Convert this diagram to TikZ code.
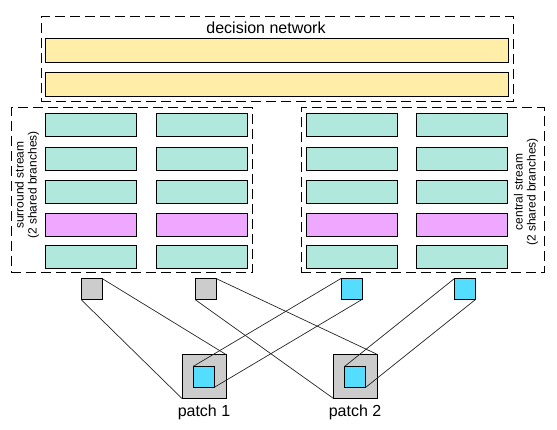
\documentclass[tikz,border=0pt]{standalone}
\usepackage{fontspec}
\setmainfont{Liberation Sans}
\definecolor{barY}{HTML}{FFEDA8}
\definecolor{barT}{HTML}{B0E8DE}
\definecolor{barP}{HTML}{EEA8FF}
\definecolor{cyanF}{HTML}{55DDFF}
\definecolor{grayF}{HTML}{CCCCCC}
\begin{document}
\begin{tikzpicture}[x=1pt,y=-1pt,
  bar/.style={draw=black,line width=1pt,inner sep=0pt,outer sep=0pt,rectangle},
  ybar/.style={bar,fill=barY,minimum width=463pt,minimum height=24pt},
  tbar/.style={bar,fill=barT,minimum width=91pt,minimum height=23pt},
  pbar/.style={bar,fill=barP,minimum width=91pt,minimum height=23pt},
  group/.style={draw=black,line width=1pt,dash pattern=on 10pt off 5pt,inner sep=0pt,outer sep=0pt,rectangle},
  sq/.style={draw=black,line width=0.8pt,inner sep=0pt,outer sep=0pt,minimum size=21pt},
  lnk/.style={draw=black!85,line width=0.7pt},
  lab/.style={font=\fontsize{16}{18}\selectfont,inner sep=0pt},
  slab/.style={font=\fontsize{12}{13}\selectfont,inner sep=0pt,align=center,rotate=90}
]
\useasboundingbox (0,0) rectangle (557,430);
% decision network
\node[group,minimum width=472pt,minimum height=85pt] (dec) at (277,59.5) {};
\node[lab] (dlab) at (266,28) {decision network};
\node[ybar] (y1) at (276.5,51) {};
\node[ybar] (y2) at (276.5,85) {};
% streams
\node[group,minimum width=241pt,minimum height=165pt] (sur) at (131.5,190.5) {};
\node[group,minimum width=243pt,minimum height=165pt] (cen) at (422.5,190.5) {};
\foreach \c/\x in {a/90.5,b/202,c/352,d/462}{
  \node[tbar] (\c1) at (\x,125) {};
  \node[tbar] (\c2) at (\x,159.5) {};
  \node[tbar] (\c3) at (\x,192.5) {};
  \node[pbar] (\c4) at (\x,225) {};
  \node[tbar] (\c5) at (\x,257.5) {};
}
\node[slab] (slab) at (27,185) {surround stream\\(2 shared branches)};
\node[slab] (clab) at (526,192) {central stream\\(2 shared branches)};
% small squares
\node[sq,fill=grayF] (g1) at (91.5,289) {};
\node[sq,fill=grayF] (g2) at (205.5,289) {};
\node[sq,fill=cyanF] (c1s) at (351.5,289) {};
\node[sq,fill=cyanF] (c2s) at (465,289) {};
% patches
\node[sq,fill=grayF,minimum size=44pt] (p1) at (204,376.5) {};
\node[sq,fill=cyanF,minimum size=21pt] (p1i) at (203.5,377) {};
\node[sq,fill=grayF,minimum size=44pt] (p2) at (355.5,376.5) {};
\node[sq,fill=cyanF,minimum size=21pt] (p2i) at (355,377) {};
\node[lab] (pl1) at (204,412) {patch 1};
\node[lab] (pl2) at (355,412) {patch 2};
% links
\draw[lnk] (g1.south west) -- (p1.south west);
\draw[lnk] (g1.north east) -- (p1.north east);
\draw[lnk] (g2.south west) -- (p2.south west);
\draw[lnk] (g2.north east) -- (p2.north east);
\draw[lnk] (c1s.north west) -- (p1i.north west);
\draw[lnk] (c1s.south east) -- (p1i.south east);
\draw[lnk] (c2s.north west) -- (p2i.north west);
\draw[lnk] (c2s.south east) -- (p2i.south east);
\end{tikzpicture}
\end{document}
